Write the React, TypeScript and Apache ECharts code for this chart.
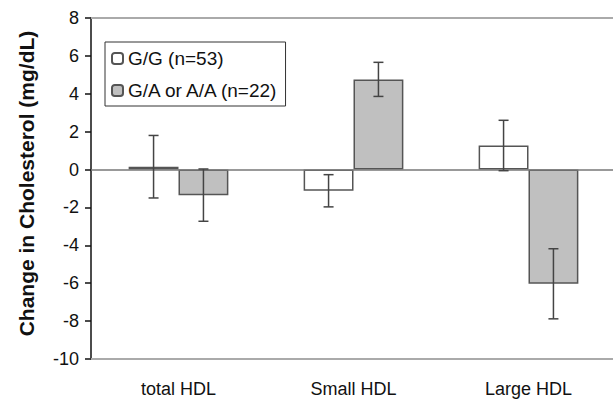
import React, { useEffect, useRef } from "react";
import * as echarts from "echarts";

const categories = ["total HDL", "Small HDL", "Large HDL"];
const seriesNames = ["G/G (n=53)", "G/A or A/A (n=22)"];
const ggValues = [0.15, -1.12, 1.27];
const gaValues = [-1.35, 4.76, -6.03];
const ggErr = [1.65, 0.85, 1.33];
const gaErr = [1.38, 0.9, 1.85];
const yTicks = { min: -10, max: 8, interval: 2 };

const GAP = 0.43;
const FONT = "'Liberation Sans', Arial, Helvetica, sans-serif";

export default function App() {
  const ref = useRef<HTMLDivElement>(null);
  useEffect(() => {
    if (!ref.current) return;
    const chart = echarts.init(ref.current, null, { renderer: "svg" });
    const errData: number[][] = [];
    ggValues.forEach((v, i) => errData.push([i, v - ggErr[i], v + ggErr[i], 0]));
    gaValues.forEach((v, i) => errData.push([i, v - gaErr[i], v + gaErr[i], 1]));

    chart.setOption({
      animation: false,
      backgroundColor: "#fff",
      textStyle: { fontFamily: FONT },
      grid: { left: 91, top: 18, width: 525, bottom: 42, containLabel: false, outerBoundsMode: "none" },
      legend: {
        orient: "vertical",
        left: 105,
        top: 42,
        data: seriesNames,
        itemWidth: 11,
        itemHeight: 11,
        itemGap: 13,
        padding: [7, 6, 6, 6],
        borderColor: "#333",
        borderWidth: 1,
        backgroundColor: "#fff",
        textStyle: { fontSize: 19, color: "#111", fontFamily: FONT },
      },
      xAxis: [
        {
          type: "category",
          data: categories,
          position: "bottom",
          axisLine: { onZero: false, lineStyle: { color: "#aaa", width: 2 } },
          axisTick: { show: false },
          axisLabel: { fontSize: 18, color: "#111", margin: 21, fontFamily: FONT },
          splitLine: { show: false },
        },
        {
          type: "category",
          data: categories,
          position: "top",
          axisLine: { onZero: false, lineStyle: { color: "#aaa", width: 2 } },
          axisTick: { show: false },
          axisLabel: { show: false },
        },
      ],
      yAxis: {
        type: "value",
        min: yTicks.min,
        max: yTicks.max,
        interval: yTicks.interval,
        name: "Change in Cholesterol (mg/dL)",
        nameLocation: "middle",
        nameGap: 54,
        nameTextStyle: { fontSize: 21, fontWeight: "bold", color: "#111", fontFamily: FONT, padding: [0, 0, 0, 10] },
        axisLine: { show: true, lineStyle: { color: "#111", width: 1.5 } },
        axisTick: { show: true, length: 6, lineStyle: { color: "#111", width: 1.5 } },
        axisLabel: { fontSize: 18, color: "#111", margin: 12, fontFamily: FONT },
        splitLine: { show: false },
      },
      series: [
        {
          name: seriesNames[0],
          type: "bar",
          data: ggValues,
          barGap: "0%",
          barCategoryGap: GAP * 100 + "%",
          itemStyle: { color: "#fff", borderColor: "#555", borderWidth: 1.5 },
          markLine: {
            silent: true,
            symbol: "none",
            label: { show: false },
            lineStyle: { color: "#777", width: 1.5, type: "solid" },
            data: [{ yAxis: 0 }],
          },
        },
        {
          name: seriesNames[1],
          type: "bar",
          data: gaValues,
          barGap: "0%",
          barCategoryGap: GAP * 100 + "%",
          itemStyle: { color: "#c0c0c0", borderColor: "#555", borderWidth: 1.5 },
        },
        {
          type: "custom",
          data: errData,
          z: 5,
          renderItem: (params: any, api: any) => {
            const x = api.value(0);
            const lo = api.coord([x, api.value(1)]);
            const hi = api.coord([x, api.value(2)]);
            const band = api.size([1, 0])[0];
            const bw = (band * (1 - GAP)) / 2;
            const off = api.value(3) === 0 ? -bw / 2 : bw / 2;
            const cx = lo[0] + off;
            const cap = 5;
            const style = { stroke: "#444", lineWidth: 1.5, fill: "none" };
            return {
              type: "group",
              children: [
                { type: "line", shape: { x1: cx, y1: lo[1], x2: cx, y2: hi[1] }, style },
                { type: "line", shape: { x1: cx - cap, y1: lo[1], x2: cx + cap, y2: lo[1] }, style },
                { type: "line", shape: { x1: cx - cap, y1: hi[1], x2: cx + cap, y2: hi[1] }, style },
              ],
            };
          },
        },
      ],
    });
    return () => chart.dispose();
  }, []);
  return (
    <div
      ref={ref}
      style={{ position: "absolute", left: 0, top: 0, width: 613, height: 401, background: "#fff" }}
    />
  );
}
